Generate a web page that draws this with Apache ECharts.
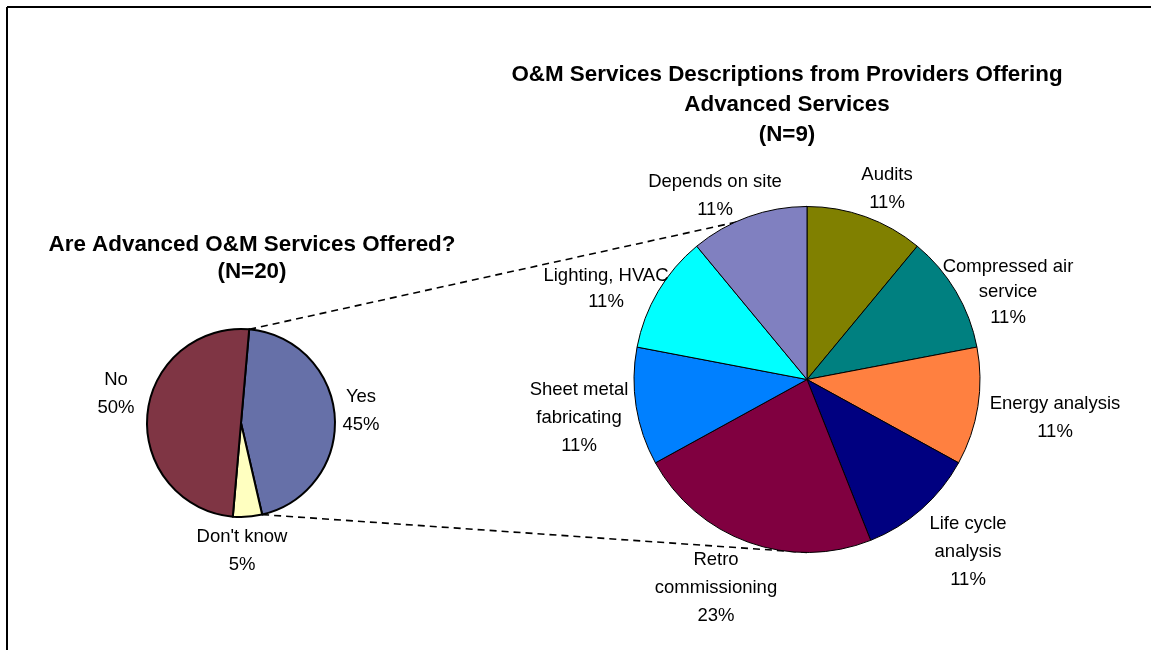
<!DOCTYPE html>
<html>
<head>
<meta charset="utf-8">
<title>O&amp;M Services</title>
<script src="https://cdn.jsdelivr.net/npm/echarts@6/dist/echarts.min.js"></script>
<style>
  html, body { margin: 0; padding: 0; background: #ffffff; }
  #chart { width: 1151px; height: 650px; }
</style>
</head>
<body>
<div id="chart"></div>
<script>
// Survey answers: are advanced O&M services offered? (N=20)
const offeredCategories = ['Yes', "Don't know", 'No'];
const offeredPercents = [45, 5, 50];

// Service descriptions from providers offering advanced services (N=9)
const serviceCategories = [
  'Audits',
  'Compressed air\nservice',
  'Energy analysis',
  'Life cycle\nanalysis',
  'Retro\ncommissioning',
  'Sheet metal\nfabricating',
  'Lighting, HVAC',
  'Depends on site'
];
const servicePercents = [11, 11, 11, 11, 23, 11, 11, 11];

const offeredColors = ['#6670A8', '#FFFFC0', '#7F3544'];
const serviceColors = ['#808000', '#008080', '#FF8040', '#000080', '#800040', '#0080FF', '#00FFFF', '#8080C0'];

// Pie geometry
const leftPie = { cx: 241, cy: 423, r: 94, start: 85 };
const rightPie = { cx: 807, cy: 379.5, r: 173, start: 90 };

// Label block centres (layout only) and line heights
const offeredLabelPos = [[361, 411, 28], [242, 551, 28.5], [116, 394, 28]];
const serviceLabelPos = [
  [887, 189, 28], [1008, 292, 25.5], [1055, 417.5, 28], [968, 552, 28],
  [716, 588, 28], [579, 418, 28], [606, 289, 26], [715, 196, 28]
];

const FONT = '"Liberation Sans", Arial, sans-serif';

function pointAt(p, deg) {
  const a = deg * Math.PI / 180;
  return [p.cx + p.r * Math.cos(a), p.cy - p.r * Math.sin(a)];
}

// Edges of the "Yes" slice, which is broken out into the right-hand pie
const sumOffered = offeredPercents.reduce((a, b) => a + b, 0);
const yesStart = pointAt(leftPie, leftPie.start);
const yesEnd = pointAt(leftPie, leftPie.start - 360 * offeredPercents[0] / sumOffered);
const rightTop = pointAt(rightPie, 90);
const rightBottom = pointAt(rightPie, -90);

function pieData(names, values, colors, lineHeights) {
  return names.map((n, i) => ({
    name: n,
    value: values[i],
    itemStyle: { color: colors[i] },
    label: { lineHeight: lineHeights[i][2] }
  }));
}

const labelStyle = {
  show: true,
  position: 'outside',
  formatter: p => p.name + '\n' + p.value + '%',
  color: '#000000',
  fontFamily: FONT,
  fontSize: 18.5,
  align: 'center'
};

const dashStyle = { stroke: '#000', lineWidth: 1.6, lineDash: [7, 5] };

const chart = echarts.init(document.getElementById('chart'), null, { renderer: 'canvas' });

chart.setOption({
  animation: false,
  backgroundColor: '#ffffff',
  title: [
    {
      text: 'Are Advanced O&M Services Offered?\n(N=20)',
      left: 252, top: 231.5, padding: 0,
      textAlign: 'center',
      textStyle: { fontFamily: FONT, fontSize: 22.4, fontWeight: 'bold', color: '#000', lineHeight: 27 }
    },
    {
      text: 'O&M Services Descriptions from Providers Offering\nAdvanced Services\n(N=9)',
      left: 787, top: 60, padding: 0,
      textAlign: 'center',
      textStyle: { fontFamily: FONT, fontSize: 22.4, fontWeight: 'bold', color: '#000', lineHeight: 30 }
    }
  ],
  graphic: [
    { type: 'line', z: 0, shape: { x1: 7, y1: 7, x2: 1151, y2: 7 }, style: { stroke: '#000', lineWidth: 2 } },
    { type: 'line', z: 0, shape: { x1: 7, y1: 7, x2: 7, y2: 650 }, style: { stroke: '#000', lineWidth: 2 } },
    { type: 'line', z: 0, shape: { x1: yesStart[0], y1: yesStart[1], x2: rightTop[0], y2: rightTop[1] }, style: dashStyle },
    { type: 'line', z: 0, shape: { x1: yesEnd[0], y1: yesEnd[1], x2: rightBottom[0], y2: rightBottom[1] }, style: dashStyle }
  ],
  series: [
    {
      type: 'pie',
      z: 2,
      center: [leftPie.cx, leftPie.cy],
      radius: leftPie.r,
      startAngle: leftPie.start,
      clockwise: true,
      avoidLabelOverlap: false,
      minShowLabelAngle: 0,
      emphasis: { disabled: true },
      itemStyle: { borderColor: '#000', borderWidth: 2 },
      label: labelStyle,
      labelLine: { show: false },
      labelLayout: p => ({ x: offeredLabelPos[p.dataIndex][0], y: offeredLabelPos[p.dataIndex][1], align: 'center', verticalAlign: 'middle' }),
      data: pieData(offeredCategories, offeredPercents, offeredColors, offeredLabelPos)
    },
    {
      type: 'pie',
      z: 2,
      center: [rightPie.cx, rightPie.cy],
      radius: rightPie.r,
      startAngle: rightPie.start,
      clockwise: true,
      avoidLabelOverlap: false,
      minShowLabelAngle: 0,
      emphasis: { disabled: true },
      itemStyle: { borderColor: '#000', borderWidth: 1 },
      label: labelStyle,
      labelLine: { show: false },
      labelLayout: p => ({ x: serviceLabelPos[p.dataIndex][0], y: serviceLabelPos[p.dataIndex][1], align: 'center', verticalAlign: 'middle' }),
      data: pieData(serviceCategories, servicePercents, serviceColors, serviceLabelPos)
    }
  ]
});
</script>
</body>
</html>
